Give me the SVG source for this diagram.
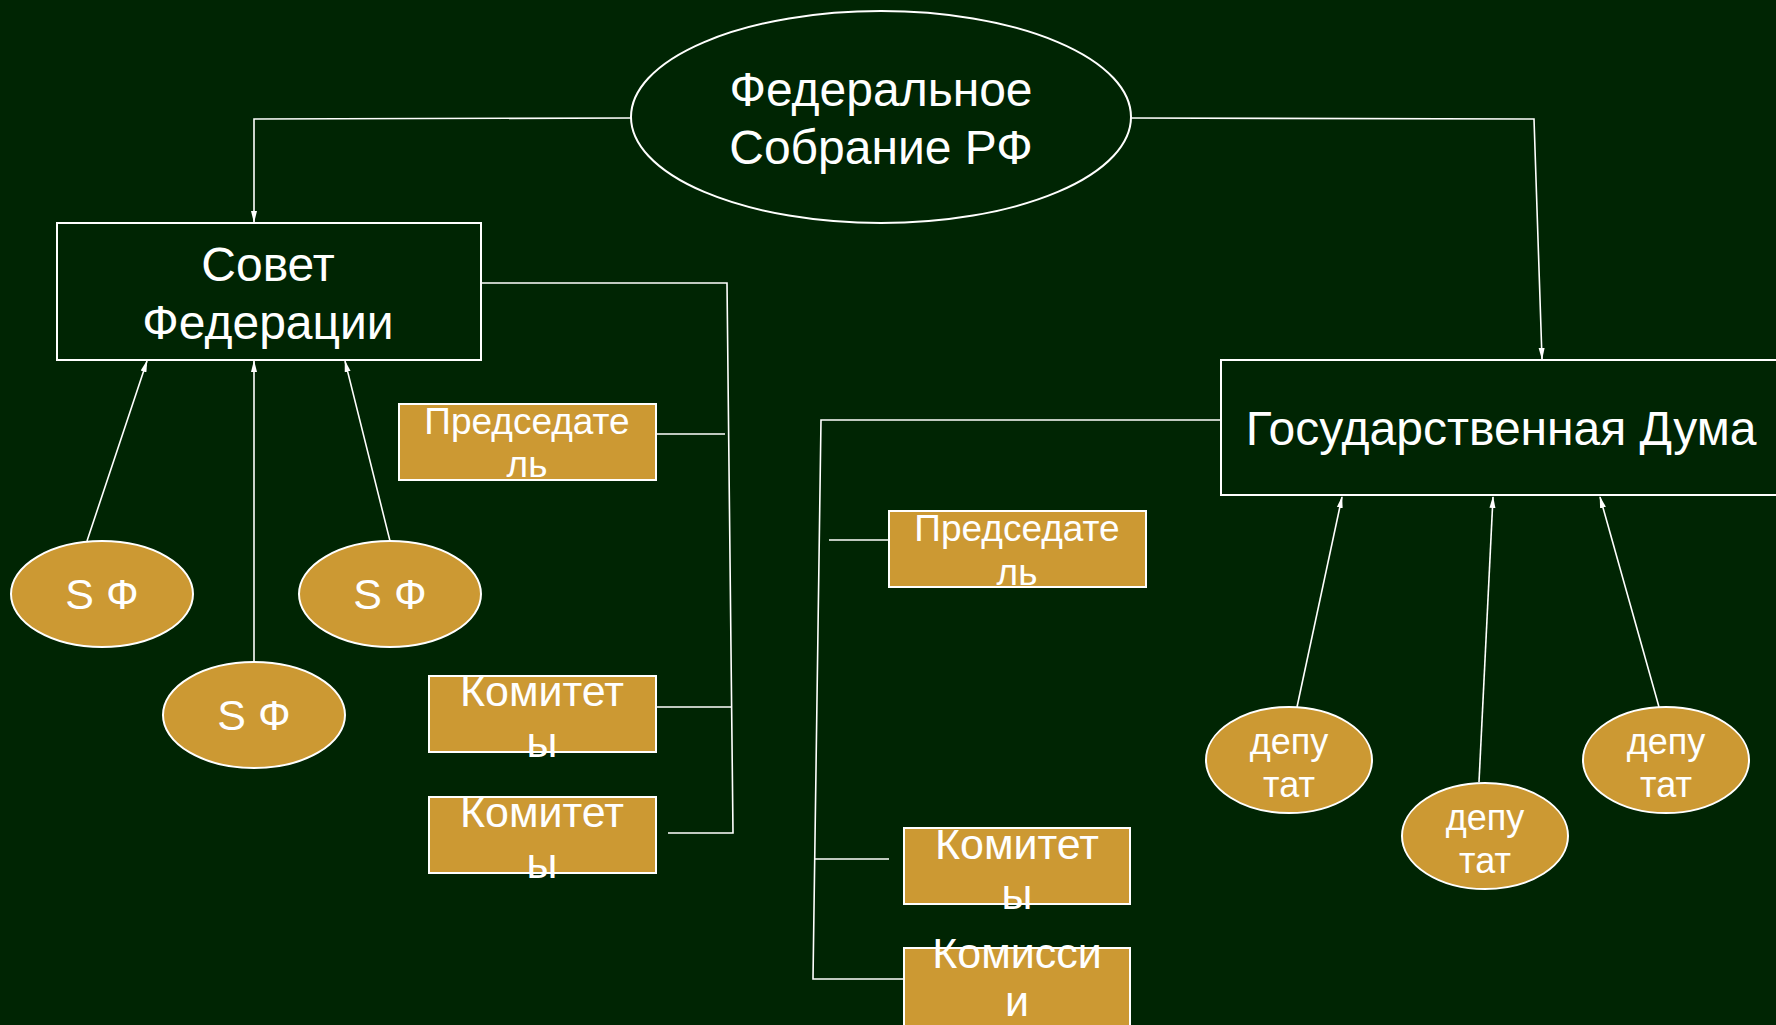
<svg xmlns="http://www.w3.org/2000/svg" width="1776" height="1025" viewBox="0 0 1776 1025">
<style>
.bg{fill:#002503}
.dark{fill:#002503;stroke:#ffffff;stroke-width:2}
.gold{fill:#cc9933;stroke:#ffffff;stroke-width:2}
.t{font-family:"Liberation Sans",Arial,sans-serif;fill:#ffffff;text-anchor:middle}
.big{font-size:48px}
.mid{font-size:43px}
.sm{font-size:36px}
.pr{font-size:37px}
.ln{fill:none;stroke:#ffffff;stroke-width:1.6}
</style>
<defs>
<marker id="arr" markerWidth="12" markerHeight="8" refX="11" refY="4" orient="auto" markerUnits="userSpaceOnUse">
<path d="M0,1 L12,4 L0,7 Z" fill="#ffffff"/>
</marker>
</defs>
<rect class="bg" x="0" y="0" width="1776" height="1025"/>
<g id="connectors">
<polyline class="ln" points="631,118 254,119 254,222" marker-end="url(#arr)"/>
<polyline class="ln" points="1130,118 1534,119 1542,359" marker-end="url(#arr)"/>
<polyline class="ln" points="481,283 727,283 733,833 668,833"/>
<line class="ln" x1="656" y1="434" x2="725" y2="434"/>
<line class="ln" x1="656" y1="707" x2="732" y2="707"/>
<polyline class="ln" points="1221,420 821,420 813,979 904,979"/>
<line class="ln" x1="829" y1="540" x2="897" y2="540"/>
<line class="ln" x1="814" y1="859" x2="889" y2="859"/>
<line class="ln" x1="87" y1="541" x2="147" y2="361" marker-end="url(#arr)"/>
<line class="ln" x1="254" y1="662" x2="254" y2="361" marker-end="url(#arr)"/>
<line class="ln" x1="390" y1="541" x2="345" y2="361" marker-end="url(#arr)"/>
<line class="ln" x1="1297" y1="707" x2="1342" y2="497" marker-end="url(#arr)"/>
<line class="ln" x1="1479" y1="782" x2="1493" y2="497" marker-end="url(#arr)"/>
<line class="ln" x1="1659" y1="707" x2="1600" y2="497" marker-end="url(#arr)"/>
</g>
<g id="fed">
<ellipse class="dark" cx="881" cy="117" rx="250" ry="106"/>
<text class="t big" x="881" y="106">Федеральное</text>
<text class="t big" x="881" y="164">Собрание РФ</text>
</g>
<g id="sovet">
<rect class="dark" x="57" y="223" width="424" height="137"/>
<text class="t big" x="268" y="281">Совет</text>
<text class="t big" x="268" y="339">Федерации</text>
</g>
<g id="duma">
<rect class="dark" x="1221" y="360" width="570" height="135"/>
<text class="t big" x="1501" y="445">Государственная Дума</text>
</g>
<g id="pred1">
<rect class="gold" x="399" y="404" width="257" height="76"/>
<text class="t pr" x="527" y="434">Председате</text>
<text class="t pr" x="527" y="477">ль</text>
</g>
<g id="kom1">
<rect class="gold" x="429" y="676" width="227" height="76"/>
<text class="t mid" x="542" y="706">Комитет</text>
<text class="t mid" x="542" y="757">ы</text>
</g>
<g id="kom2">
<rect class="gold" x="429" y="797" width="227" height="76"/>
<text class="t mid" x="542" y="827">Комитет</text>
<text class="t mid" x="542" y="878">ы</text>
</g>
<g id="sf1">
<ellipse class="gold" cx="102" cy="594" rx="91" ry="53"/>
<text class="t mid" x="102" y="609">S Ф</text>
</g>
<g id="sf2">
<ellipse class="gold" cx="390" cy="594" rx="91" ry="53"/>
<text class="t mid" x="390" y="609">S Ф</text>
</g>
<g id="sf3">
<ellipse class="gold" cx="254" cy="715" rx="91" ry="53"/>
<text class="t mid" x="254" y="730">S Ф</text>
</g>
<g id="pred2">
<rect class="gold" x="889" y="511" width="257" height="76"/>
<text class="t pr" x="1017" y="541">Председате</text>
<text class="t pr" x="1017" y="585">ль</text>
</g>
<g id="kom3">
<rect class="gold" x="904" y="828" width="226" height="76"/>
<text class="t mid" x="1017" y="859">Комитет</text>
<text class="t mid" x="1017" y="909">ы</text>
</g>
<g id="komis">
<rect class="gold" x="904" y="948" width="226" height="90"/>
<text class="t mid" x="1017" y="968">Комисси</text>
<text class="t mid" x="1017" y="1016">и</text>
</g>
<g id="dep1">
<ellipse class="gold" cx="1289" cy="760" rx="83" ry="53"/>
<text class="t sm" x="1289" y="754">депу</text>
<text class="t sm" x="1289" y="797">тат</text>
</g>
<g id="dep2">
<ellipse class="gold" cx="1485" cy="836" rx="83" ry="53"/>
<text class="t sm" x="1485" y="830">депу</text>
<text class="t sm" x="1485" y="873">тат</text>
</g>
<g id="dep3">
<ellipse class="gold" cx="1666" cy="760" rx="83" ry="53"/>
<text class="t sm" x="1666" y="754">депу</text>
<text class="t sm" x="1666" y="797">тат</text>
</g>
</svg>
